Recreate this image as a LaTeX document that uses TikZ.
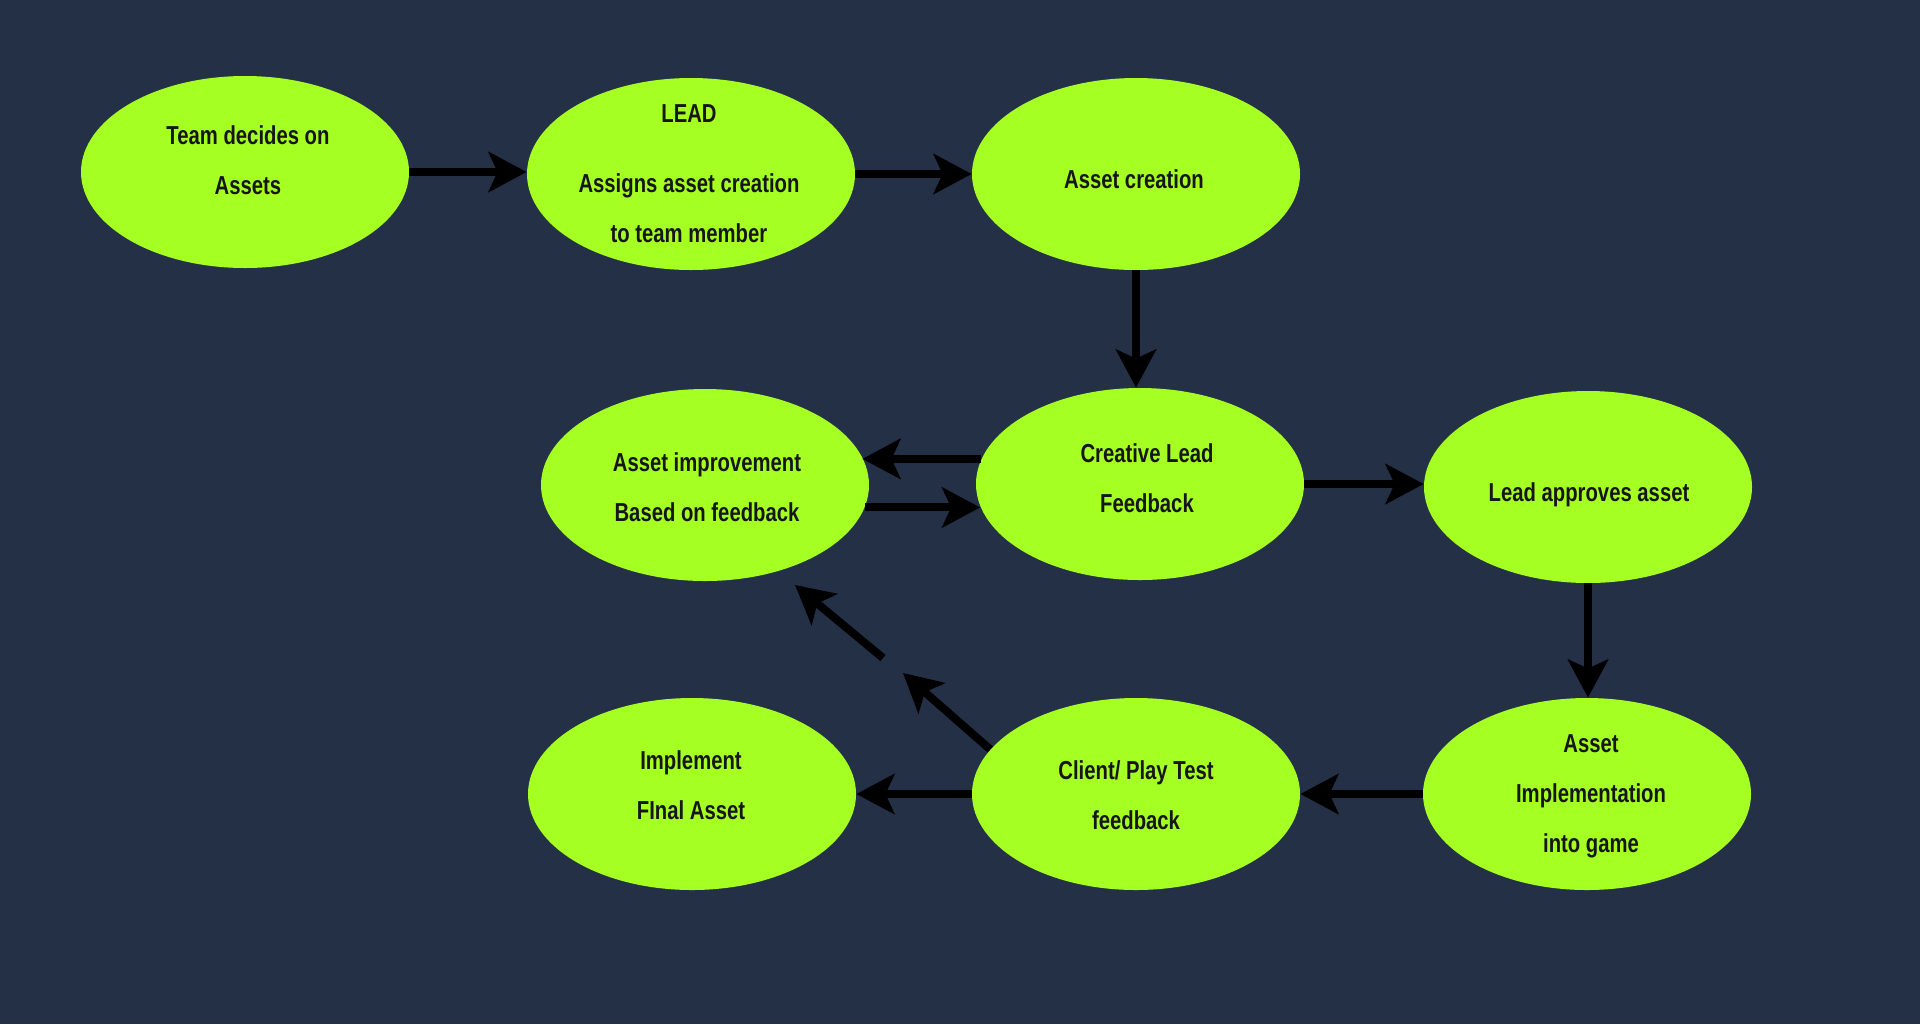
\documentclass[tikz,border=0pt]{standalone}
\usepackage{fontspec}
\newfontfamily\lblfont{Liberation Sans}[FakeStretch=0.78]
\usetikzlibrary{arrows.meta,shapes.geometric}
\definecolor{bgc}{HTML}{243046}
\definecolor{fillc}{HTML}{A6FF22}
\definecolor{txtc}{HTML}{161616}
\tikzset{
  bubble/.style={ellipse, fill=fillc, draw=none, inner sep=0pt, minimum width=164pt, minimum height=96pt},
  lbl/.style={align=center, text=txtc, inner sep=0pt, font=\lblfont\bfseries\fontsize{13}{25}\selectfont},
  arr/.style={draw=black, line width=4pt, -{Stealth[length=19pt, width=20pt, inset=4.5pt]}},
}
\begin{document}
\begin{tikzpicture}[x=0.5pt, y=-0.5pt]
\fill[bgc] (0,0) rectangle (1920,1024);
\useasboundingbox (0,0) rectangle (1920,1024);

\node[bubble] (n1) at (245,172) {};
\node[bubble] (n2) at (691,174) {};
\node[bubble] (n3) at (1136,174) {};
\node[bubble] (n4) at (705,485) {};
\node[bubble] (n5) at (1140,484) {};
\node[bubble] (n6) at (1588,487) {};
\node[bubble] (n7) at (692,794) {};
\node[bubble] (n8) at (1136,794) {};
\node[bubble] (n9) at (1587,794) {};

\node[lbl] (t1) at (248,160) {Team decides on\\Assets};
\node[lbl] (t2) at (689,174) {LEAD\\[10pt]Assigns asset creation\\to team member};
\node[lbl] (t3) at (1134,179) {Asset creation};
\node[lbl] (t4) at (707,487) {Asset improvement\\Based on feedback};
\node[lbl] (t5) at (1147,478) {Creative Lead\\Feedback};
\node[lbl] (t6) at (1589,495) {Lead approves asset};
\node[lbl] (t7) at (691,785) {Implement\\FInal Asset};
\node[lbl] (t8) at (1136,795) {Client/ Play Test\\feedback};
\node[lbl] (t9) at (1591,796) {Asset\\Implementation\\into game};

\coordinate (d1) at (903,673);
\coordinate (d2) at (883,658);
\coordinate (d3) at (795,585);

\draw[arr] (n1.east) -- (n1.east -| n2.west);
\draw[arr] (n2.east) -- (n2.east -| n3.west);
\draw[arr] (n3.south) -- (n3.south |- n5.north);
\draw[arr] (n5.171) -- (n5.171 -| n4.10);
\draw[arr] (n4.-8) -- (n4.-8 -| n5.188);
\draw[arr] (n5.east) -- (n5.east -| n6.west);
\draw[arr] (n6.south) -- (n6.south |- n9.north);
\draw[arr] (n9.west) -- (n8.east);
\draw[arr] (n8.west) -- (n7.east);
\draw[arr] (n8.163) -- (d1);
\draw[arr] (d2) -- (d3);
\end{tikzpicture}
\end{document}
